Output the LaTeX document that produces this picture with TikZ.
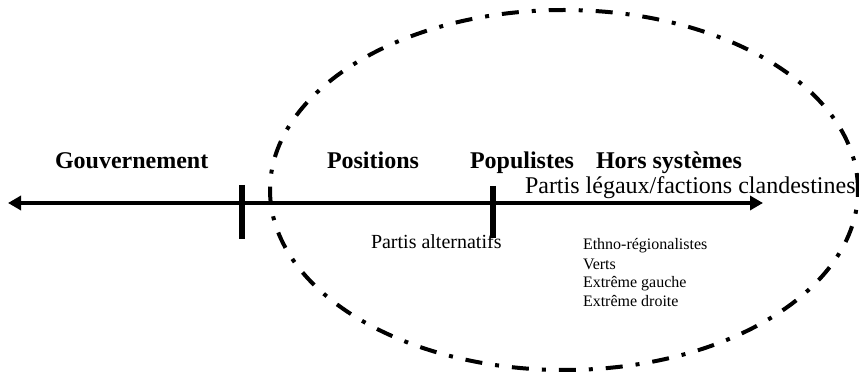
\documentclass[tikz,border=0pt]{standalone}
\usepackage{fontspec}
\setmainfont{Liberation Serif}
\usetikzlibrary{arrows.meta,shapes.geometric}

\begin{document}
\begin{tikzpicture}[x=0.5pt, y=-0.5pt, every node/.style={inner sep=0pt, outer sep=0pt}, >={Triangle[length=6.5pt, width=7pt]},
	titre/.style={font=\fontsize{12}{14}\selectfont\bfseries, anchor=base west},
	soustitre/.style={font=\fontsize{12}{14}\selectfont, anchor=base west},
	famille/.style={font=\fontsize{8}{9.5}\selectfont, anchor=base west, align=left},
	axe/.style={line width=1.8pt},
	borne/.style={line width=3pt}]
	\useasboundingbox (0,0) rectangle (859,374);
	% zone hors gouvernement
	\node[ellipse, draw, line width=2pt, dash pattern=on 8.5pt off 6.5pt on 2pt off 6.5pt, minimum width=294pt, minimum height=180pt] (zone) at (564,190) {};
	% axe
	\coordinate (gauche) at (8,203);
	\coordinate (droite) at (763,203);
	\draw[axe, <->] (gauche) -- (droite);
	\coordinate (b1h) at (242,185); \coordinate (b1b) at (242,239);
	\coordinate (b2h) at (493,186); \coordinate (b2b) at (493,238);
	\draw[borne] (b1h) -- (b1b);
	\draw[borne] (b2h) -- (b2b);
	% etiquettes
	\node[titre] (gouv) at (55,169) {Gouvernement};
	\node[titre] (positions) at (327,169) {Positions};
	\node[titre] (populistes) at (470,169) {Populistes};
	\node[titre] (hors) at (596,169) {Hors systèmes};
	\node[soustitre] (legaux) at (525,194) {Partis légaux/factions clandestines};
	\node[font=\fontsize{10}{12}\selectfont, anchor=base west] (alternatifs) at (371,249) {Partis alternatifs};
	% le point de base est celui de la derniere ligne
	\node[famille] (familles) at (583,307) {Ethno-régionalistes\\Verts\\Extrême gauche\\Extrême droite};
\end{tikzpicture}
\end{document}
